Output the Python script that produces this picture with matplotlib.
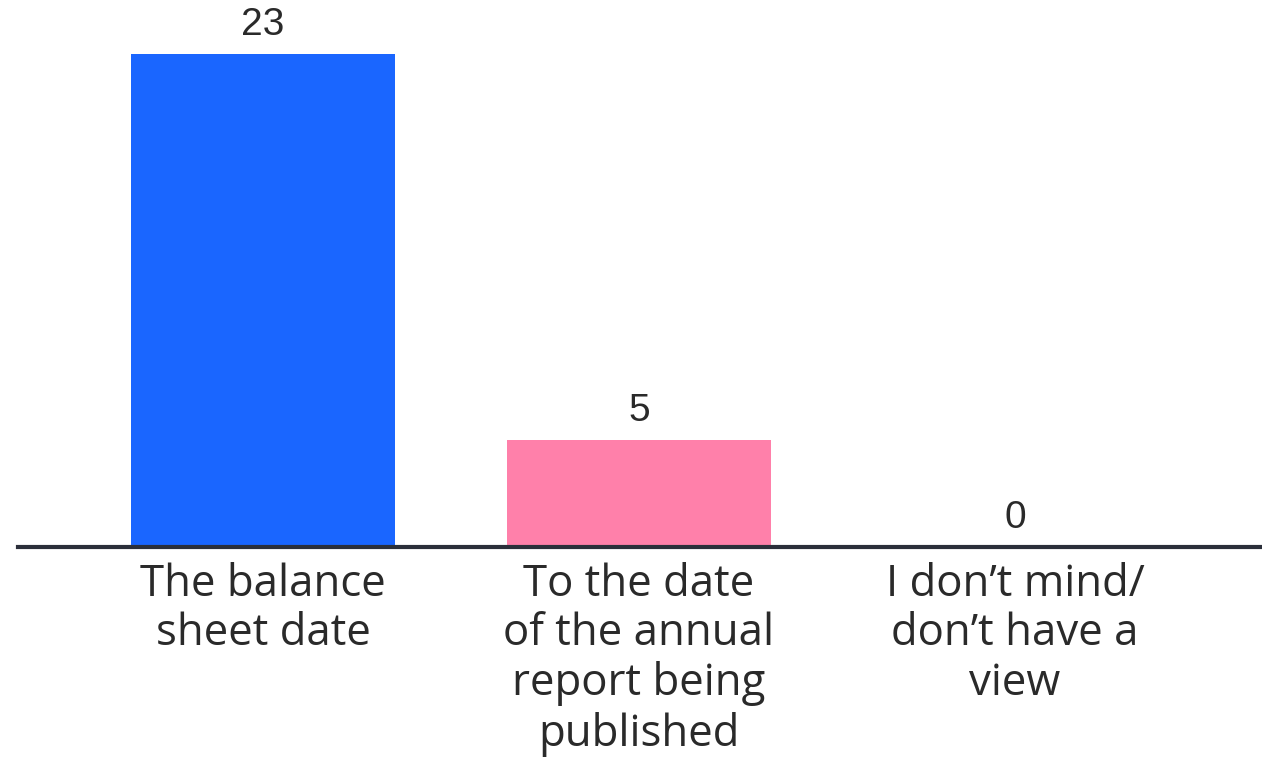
import matplotlib
matplotlib.use("Agg")
import matplotlib.pyplot as plt

categories = ["The balance\nsheet date",
              "To the date\nof the annual\nreport being\npublished",
              "I don\u2019t mind/\ndon\u2019t have a\nview"]
values = [23, 5, 0]
colors = ["#1A66FF", "#FF80AA", "#FF80AA"]

fig = plt.figure(figsize=(12.62, 7.57), dpi=100)
ax = fig.add_axes([18 / 1262, (757 - 547) / 757, 1244 / 1262, 547 / 757])

x = range(len(categories))
bars = ax.bar(x, values, width=0.702, color=colors, zorder=2)

ax.set_xlim(-0.652, 2.657)
ax.set_ylim(0, 25.5)

for xi, v in zip(x, values):
    ax.annotate(str(v), xy=(xi, v), xytext=(0, 8), textcoords="offset points",
                ha="center", va="bottom", fontsize=28, color="#2a2a2a",
                family="Liberation Sans")

for s in ["top", "right", "left"]:
    ax.spines[s].set_visible(False)
ax.spines["bottom"].set_color("#2b2f3a")
ax.spines["bottom"].set_linewidth(3)
ax.spines["bottom"].set_zorder(3)

ax.set_yticks([])
ax.set_xticks(list(x))
ax.set_xticklabels(categories, fontsize=31.5, color="#2a2a2a", family="Open Sans",
                   linespacing=1.15)
ax.tick_params(axis="x", length=0, pad=11)

fig.savefig("out.png", dpi=100, facecolor="white")
